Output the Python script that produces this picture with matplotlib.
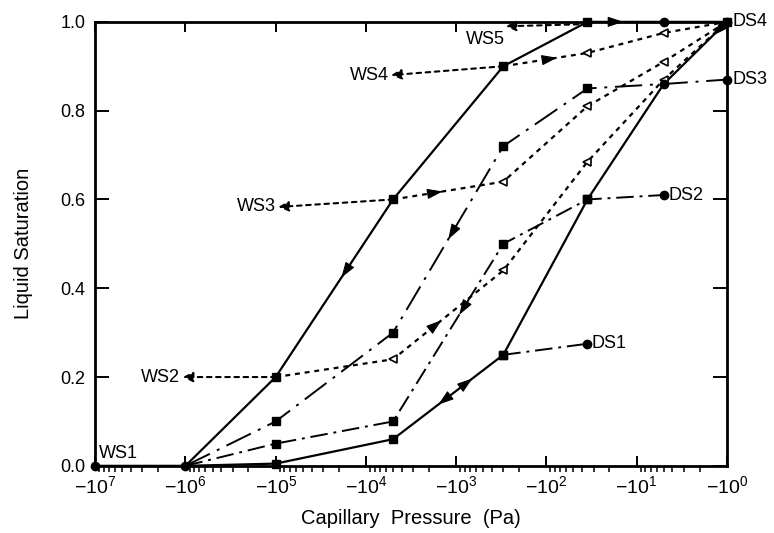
import matplotlib
matplotlib.use("Agg")
import matplotlib.pyplot as plt
import numpy as np

plt.rcParams.update({
    "font.family": ["Liberation Sans", "DejaVu Sans"],
    "mathtext.fontset": "custom",
    "mathtext.rm": "Liberation Sans",
    "mathtext.it": "Liberation Sans",
    "mathtext.bf": "Liberation Sans:bold",
})

# ── Données ──────────────────────────────────────────────────────────────────
# pression capillaire (Pa) des sommets
pressure = [-1e7, -1e6, -1e5, -5e3, -3e2, -35, -5, -1]

wet_main = [0.0, 0.0, 0.005, 0.06, 0.25, 0.60, 0.86, 1.0]   # courbe pleine droite
dry_main = [0.0, 0.20, 0.60, 0.90, 1.0, 1.0, 1.0]            # courbe pleine gauche, pressure[1:]
ds1 = [0.25, 0.275]                                          # pressure[4:6]
ds2 = [0.0, 0.05, 0.10, 0.50, 0.60, 0.61]                    # pressure[1:7]
ds3 = [0.0, 0.10, 0.30, 0.72, 0.85, 0.86, 0.87]              # pressure[1:8]
ws2 = [0.20, 0.24, 0.44, 0.685, 0.87, 1.0]                   # pressure[2:8]
ws3 = [0.60, 0.64, 0.81, 0.91, 1.0]                          # pressure[3:8]
ws4 = [0.90, 0.93, 0.975, 1.0]                               # pressure[4:8]

x_ticks = [-1e7, -1e6, -1e5, -1e4, -1e3, -1e2, -1e1, -1e0]


def lx(p):
    """position horizontale : -log10(|P|)"""
    return -np.log10(-np.asarray(p, dtype=float))


X = lx(pressure)

fig = plt.figure(figsize=(7.74, 5.33), dpi=100)
ax = fig.add_axes([0.123, 0.126, 0.816, 0.833])

SOLID = dict(color="black", lw=1.6, solid_joinstyle="miter")
DOT = (0, (2.2, 2.2))
DASHDOT = (0, (9, 3, 1.5, 3))
LONGDASH = (0, (14, 4, 1.5, 4))
SQ = dict(marker="s", ms=5.5)

# courbes principales
ax.plot(X, wet_main, **SOLID, **SQ, markevery=[2, 3, 4, 5, 7], clip_on=False, zorder=3)
ax.plot(X[1:], dry_main, **SOLID, **SQ, markevery=[1, 2, 3, 4], clip_on=False, zorder=3)

# balayage séchage
ax.plot(X[4:6], ds1, color="black", lw=1.4, ls=DASHDOT, **SQ, markevery=[0], zorder=3)
ax.plot(X[1:7], ds2, color="black", lw=1.4, ls=DASHDOT, **SQ,
        markevery=[1, 2, 3, 4], zorder=3)
ax.plot(X[1:8], ds3, color="black", lw=1.4, ls=LONGDASH, **SQ,
        markevery=[1, 2, 3, 4], clip_on=False, zorder=3)

# balayage humidification
for xs, ys in [(X[2:8], ws2), (X[3:8], ws3), (X[4:8], ws4)]:
    ax.plot(xs, ys, color="black", lw=1.6, ls=DOT, zorder=2)
    ax.plot(xs[1:-1], ys[1:-1], ls="none", marker="<", ms=5.5, mfc="white",
            mec="black", mew=1.2, zorder=4)

# extrémités (cercles)
ends_x = [X[0], X[1], X[5], X[6], X[6], X[7], X[7], X[6]]
ends_y = [wet_main[0], wet_main[1], ds1[-1], ds2[-1], wet_main[6], ds3[-1], 1.0,
          dry_main[-2]]
ax.plot(ends_x, ends_y, ls="none", marker="o", ms=6, color="black",
        clip_on=False, zorder=5)


def seg_arrow(xs, ys, i, frac, reverse=False, size=16):
    x0, y0, x1, y1 = xs[i], ys[i], xs[i + 1], ys[i + 1]
    if reverse:
        x0, y0, x1, y1 = x1, y1, x0, y0
        frac = 1 - frac
    xm, ym = x0 + frac * (x1 - x0), y0 + frac * (y1 - y0)
    d = 0.02
    ax.annotate("", xy=(xm + d * (x1 - x0), ym + d * (y1 - y0)), xytext=(xm, ym),
                arrowprops=dict(arrowstyle="-|>,head_length=0.6,head_width=0.2",
                                color="black", lw=0.8,
                                shrinkA=0, shrinkB=0, mutation_scale=size),
                zorder=6)


# flèches de sens
seg_arrow(X[1:], dry_main, 1, 0.58, reverse=True)      # descente courbe gauche
seg_arrow(X[1:], dry_main, 4, 0.45)                     # le long du haut
seg_arrow(X, wet_main, 3, 0.70)                         # courbe droite, montée
seg_arrow(X, wet_main, 3, 0.43, reverse=True)           # courbe droite, descente
seg_arrow(X, wet_main, 6, 0.80, reverse=True)           # depuis DS4
seg_arrow(X[1:8], ds3, 2, 0.52, reverse=True)
seg_arrow(X[1:7], ds2, 2, 0.62, reverse=True)
seg_arrow(X[2:8], ws2, 1, 0.42)
seg_arrow(X[3:8], ws3, 0, 0.43)
seg_arrow(X[4:8], ws4, 0, 0.62)


def label_arrow(start, tip, text, tx, ty, ha="right", va="center"):
    ax.annotate("", xy=tip, xytext=start,
                arrowprops=dict(arrowstyle="-|>,head_length=0.5,head_width=0.25",
                                color="black", lw=1.5,
                                linestyle=DOT, shrinkA=0, shrinkB=0,
                                mutation_scale=12))
    ax.text(tx, ty, text, ha=ha, va=va, fontsize=13)


label_arrow((X[2], ws2[0]), (-6.03, 0.2), "WS2", -6.06, 0.2)
label_arrow((X[3], ws3[0]), (-4.97, 0.583), "WS3", -5.0, 0.583)
label_arrow((X[4], ws4[0]), (-3.72, 0.88), "WS4", -3.75, 0.88)
label_arrow((X[5], 0.995), (-2.45, 0.99), "WS5", -2.68, 0.96, ha="center")
ax.text(X[0] + 0.04, 0.008, "WS1", ha="left", va="bottom", fontsize=13)

ax.text(X[5] + 0.05, ds1[-1], "DS1", ha="left", va="center", fontsize=13)
ax.text(X[6] + 0.05, ds2[-1], "DS2", ha="left", va="center", fontsize=13)
ax.text(X[7] + 0.06, ds3[-1], "DS3", ha="left", va="center", fontsize=13,
        clip_on=False)
ax.text(X[7] + 0.06, 1.0, "DS4", ha="left", va="center", fontsize=13,
        clip_on=False)

# axes
ax.set_xlim(-7, 0)
ax.set_ylim(0, 1)
xt = lx(x_ticks)
ax.set_xticks(xt)
ax.set_xticklabels([rf"$-10^{{{int(round(-v))}}}$" for v in xt])
minor = [lx(-m * 10.0 ** d) for d in range(0, 7) for m in range(2, 10)]
ax.set_xticks(minor, minor=True)
ax.set_yticks(np.arange(0, 1.01, 0.2))
ax.set_yticklabels([f"{v:.1f}" for v in np.arange(0, 1.01, 0.2)])

ax.tick_params(axis="both", direction="in", top=True, right=True, width=1.4)
ax.tick_params(axis="y", length=10, pad=7, labelsize=13)
ax.tick_params(axis="x", which="major", length=7, pad=7, labelsize=14)
ax.tick_params(axis="x", which="minor", length=4.5, width=1.1)
for s in ax.spines.values():
    s.set_linewidth(2)

ax.set_xlabel("Capillary  Pressure  (Pa)", fontsize=14.5, labelpad=8)
ax.set_ylabel("Liquid Saturation", fontsize=14.5, labelpad=20)

fig.savefig("out.png", dpi=100)
